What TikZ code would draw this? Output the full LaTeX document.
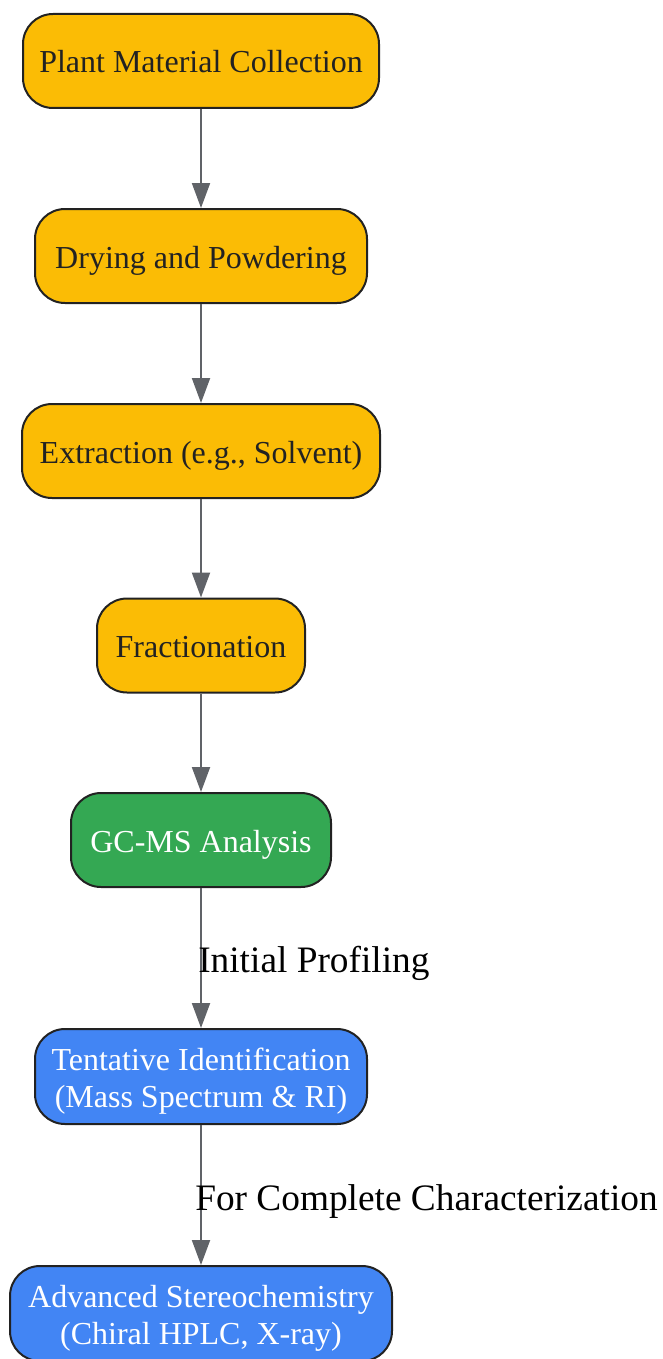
\documentclass[tikz,border=0pt]{standalone}
\usepackage{fontspec}
\setmainfont{Liberation Serif}
\usetikzlibrary{arrows.meta}
\definecolor{gyellow}{HTML}{FBBC05}
\definecolor{ggreen}{HTML}{34A853}
\definecolor{gblue}{HTML}{4285F4}
\definecolor{edgecol}{HTML}{222222}
\definecolor{arrowcol}{HTML}{606368}
\definecolor{darktext}{HTML}{222222}
\tikzset{
  box/.style={rectangle, rounded corners=22.5pt, draw=edgecol, line width=1.5pt,
    inner sep=0pt, align=center, font=\fontsize{24}{27.75}\selectfont},
  oneline/.style={text height=18pt, text depth=0pt},
  twoline/.style={text height=46.5pt, text depth=0pt},
  ybox/.style={box, oneline, fill=gyellow, text=darktext, minimum height=70.5pt},
  gbox/.style={box, oneline, fill=ggreen, text=white, minimum height=70.5pt},
  bbox/.style={box, twoline, fill=gblue, text=white, minimum height=71.25pt},
  flow/.style={draw=arrowcol, line width=1.5pt, -{Triangle[length=18.75pt,width=13.5pt]}},
  elabel/.style={inner sep=0pt, anchor=base west, font=\fontsize{28}{32}\selectfont, text=black}
}
\begin{document}
\begin{tikzpicture}[x=0.75pt,y=-0.75pt]
\useasboundingbox (0,0) rectangle (662,1359);
\node[ybox, minimum width=267pt] (n1) at (201,61) {Plant Material Collection};
\node[ybox, minimum width=249pt] (n2) at (201,256) {Drying and Powdering};
\node[ybox, minimum width=268.5pt] (n3) at (201,451) {Extraction (e.g., Solvent)};
\node[ybox, minimum width=156pt] (n4) at (201,645.5) {Fractionation};
\node[gbox, minimum width=195pt] (n5) at (201,840) {GC-MS Analysis};
\node[bbox, minimum width=249pt] (n6) at (201,1076.5) {Tentative Identification\\(Mass Spectrum \& RI)};
\node[bbox, minimum width=286.5pt] (n7) at (201,1313.5) {Advanced Stereochemistry\\(Chiral HPLC, X-ray)};
\draw[flow] (n1.south) -- (n2.north);
\draw[flow] (n2.south) -- (n3.north);
\draw[flow] (n3.south) -- (n4.north);
\draw[flow] (n4.south) -- (n5.north);
\draw[flow] (n5.south) -- (n6.north);
\draw[flow] (n6.south) -- (n7.north);
\node[elabel] (l1) at (198,972) {Initial Profiling};
\node[elabel] (l2) at (195,1210) {For Complete Characterization};
\end{tikzpicture}
\end{document}
